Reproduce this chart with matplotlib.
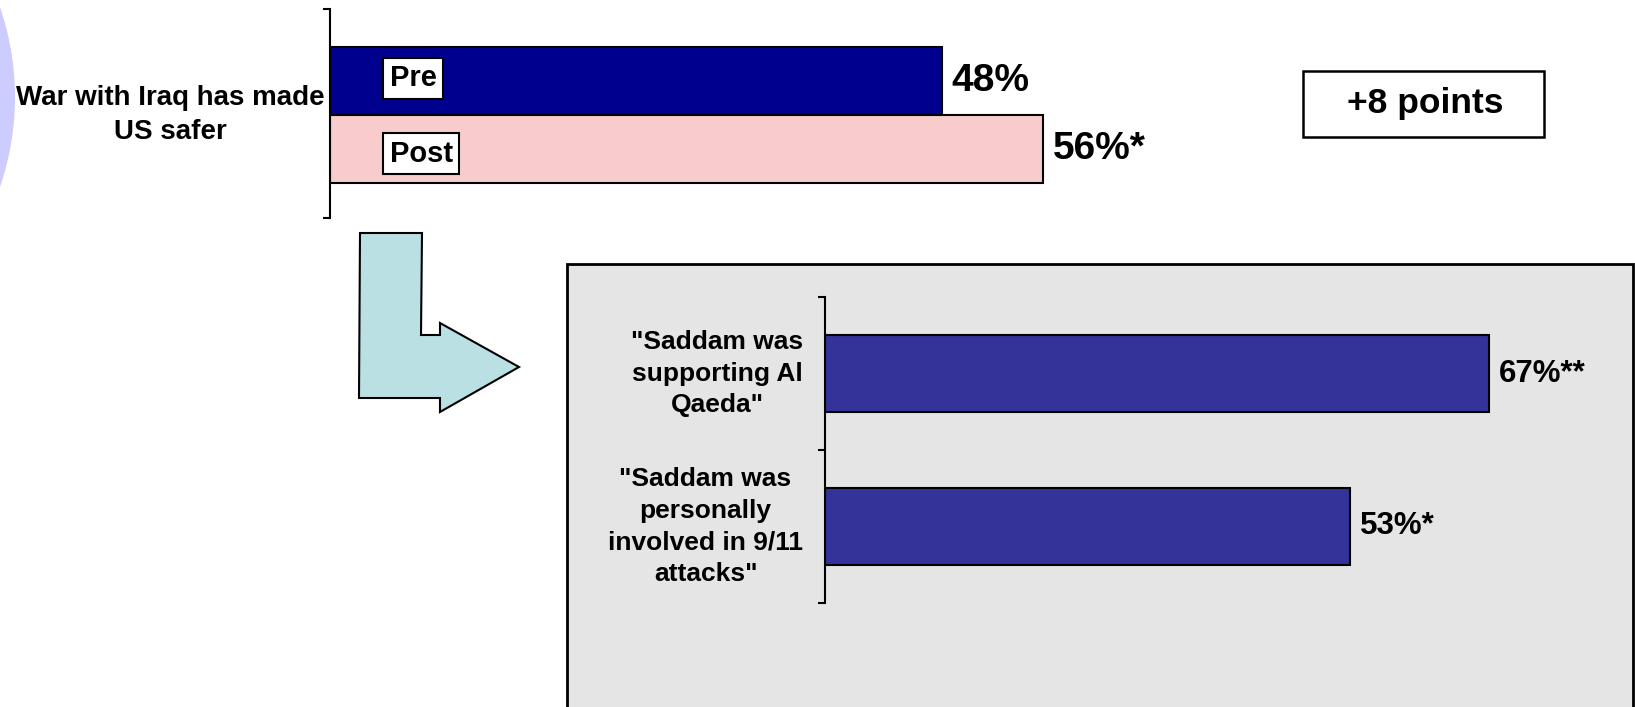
import matplotlib.pyplot as plt
from matplotlib.patches import Rectangle, Polygon, Ellipse

plt.rcParams['font.family'] = ['Liberation Sans', 'DejaVu Sans']
plt.rcParams['font.weight'] = 'bold'

# top chart: before / after
top_question = 'War with Iraq has made\nUS safer'
top_groups = ['Pre', 'Post']
top_values = [48, 56]
top_labels = ['48%', '56%*']
top_colors = ['#00008f', '#f8cccc']
change_text = '+8 points'

# bottom chart
bottom_questions = ['"Saddam was\nsupporting Al\nQaeda"',
                    '"Saddam was\npersonally\ninvolved in 9/11\nattacks"']
bottom_values = [67, 53]
bottom_labels = ['67%**', '53%*']

W, H = 1635, 707
fig = plt.figure(figsize=(W / 100, H / 100), dpi=100)


def rect(x0, y0, x1, y1):
    # pixel box measured from top-left -> figure fraction
    return [x0 / W, 1 - y1 / H, (x1 - x0) / W, (y1 - y0) / H]


def fpt(x, y):
    return (x / W, 1 - y / H)


# decorations
fig.add_artist(Ellipse(fpt(-262, 97), 2 * 277 / W, 2 * 277 / H, transform=fig.transFigure,
                       facecolor='#ccccff', edgecolor='none', zorder=-2))
arrow = [(360, 233), (422, 233), (421, 335), (440, 335), (440, 323), (519, 367),
         (440, 412), (440, 398), (359, 398)]
fig.add_artist(Polygon([fpt(x, y) for x, y in arrow], closed=True, transform=fig.transFigure,
                       facecolor='#bbe0e4', edgecolor='black', lw=1.5, zorder=-1))
gx = rect(567, 264, 1633, 730)
fig.add_artist(Rectangle((gx[0], gx[1]), gx[2], gx[3], transform=fig.transFigure,
                         facecolor='#e5e5e5', edgecolor='black', lw=2, zorder=-1))
bx = rect(1303, 71, 1544, 137)
fig.add_artist(Rectangle((bx[0], bx[1]), bx[2], bx[3], transform=fig.transFigure,
                         facecolor='white', edgecolor='black', lw=1.8, zorder=-1))
fig.text(*fpt(1425, 104), change_text, ha='center', va='center', fontsize=25.5)


def style(ax, ticks):
    for s in ['top', 'right', 'bottom']:
        ax.spines[s].set_visible(False)
    ax.spines['left'].set_linewidth(1.5)
    ax.set_xticks([])
    ax.set_yticks(ticks)
    ax.set_yticklabels([])
    ax.tick_params(axis='y', length=5, width=1.5, direction='out')
    ax.patch.set_alpha(0)


# top bars
ax1 = fig.add_axes(rect(330, 9, 1630, 218))
y1 = range(len(top_values))
ax1.barh(y1, top_values, height=1.0, color=top_colors, edgecolor='black', lw=1.5)
ax1.set_xlim(0, 1300 / 12.74)
ax1.set_ylim(2.015, -1.06)
style(ax1, [2.015, -1.06])
shifts = [-0.04, 0.07]
for i, (g, v, lbl) in enumerate(zip(top_groups, top_values, top_labels)):
    ax1.text(4.7, i + shifts[i], g, ha='left', va='center', fontsize=21,
             bbox=dict(boxstyle='square,pad=0.22', facecolor='white', edgecolor='black', lw=1.5))
    ax1.annotate(lbl, (v, i), xytext=(7, 0), textcoords='offset points',
                 ha='left', va='center', fontsize=28)
ax1.text(-5 / 1300, 0.5, top_question, transform=ax1.get_yaxis_transform(),
         ha='right', va='center', multialignment='center', fontsize=20, linespacing=1.4)

# bottom bars
ax2 = fig.add_axes(rect(825, 297, 1625, 603))
y2 = range(len(bottom_values))
ax2.barh(y2, bottom_values, height=0.5, color='#333399', edgecolor='black', lw=1.5)
ax2.set_xlim(0, 800 / 9.91)
ax2.set_ylim(1.5, -0.5)
style(ax2, [-0.5, 0.5, 1.5])
for i, (q, v, lbl) in enumerate(zip(bottom_questions, bottom_values, bottom_labels)):
    ax2.annotate(lbl, (v, i), xytext=(7, 0), textcoords='offset points',
                 ha='left', va='center', fontsize=22.5)
    ax2.text(-22 / 800, i, q, transform=ax2.get_yaxis_transform(),
             ha='right', va='center', multialignment='center', fontsize=19, linespacing=1.4)

fig.savefig('out.png', dpi=100)
